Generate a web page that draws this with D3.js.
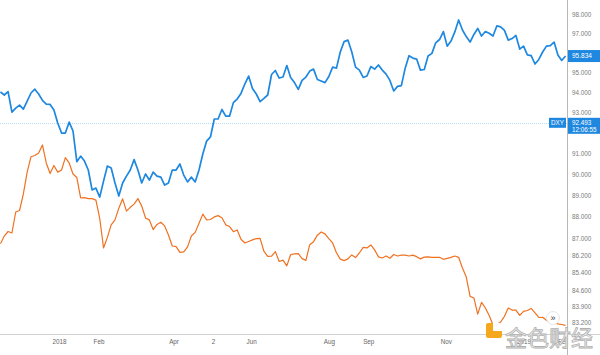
<!DOCTYPE html>
<html>
<head>
<meta charset="utf-8">
<script src="https://cdn.jsdelivr.net/npm/d3@7"></script>
<style>
  html, body { margin: 0; padding: 0; background: #fff; }
  svg { display: block; }
</style>
</head>
<body>
<svg id="chart" width="600" height="355"></svg>
<script>
// ---------------- DATA ----------------
const seriesStart = "2017-11-16";   // first sample date
const stepDays = 3;                  // sampling step (calendar days)

// DXY (blue)
const dxyValues = [
  94.02, 93.87, 94.04, 93.02, 93.22, 93.37, 93.17, 93.57, 93.97, 94.16,
  93.92, 93.60, 93.42, 93.40, 93.12, 92.48, 91.99, 91.99, 92.53, 92.09,
  90.60, 90.87, 90.63, 90.20, 89.25, 89.34, 88.91, 89.67, 90.39, 90.30,
  89.58, 88.96, 89.58, 89.91, 90.20, 90.70, 90.20, 89.58, 90.01, 89.72,
  90.10, 89.91, 89.86, 89.48, 89.58, 90.20, 90.20, 90.49, 89.96, 89.63,
  89.86, 89.63, 90.20, 90.97, 91.60, 91.80, 92.68, 92.68, 93.15, 92.82,
  92.82, 93.49, 93.67, 93.95, 94.42, 94.82, 94.20, 93.92, 93.54, 93.70,
  93.87, 94.90, 95.10, 94.72, 94.77, 95.35, 94.75, 94.49, 94.15, 94.60,
  94.77, 95.07, 95.17, 94.65, 94.57, 94.49, 94.80, 95.27, 95.22, 96.04,
  96.57, 96.65, 96.05, 95.27, 95.12, 94.75, 94.82, 95.30, 95.17, 95.38,
  95.12, 94.92, 94.60, 94.07, 94.30, 94.34, 95.22, 95.85, 95.73, 95.68,
  95.12, 95.15, 95.84, 95.97, 96.51, 96.68, 97.09, 96.34, 96.60, 97.07,
  97.69, 97.17, 96.83, 96.55, 96.94, 97.25, 96.86, 97.09, 97.00, 96.86,
  97.38, 97.33, 97.15, 96.65, 96.73, 96.89, 96.19, 96.34, 95.89, 95.86,
  95.43, 95.66, 96.04, 96.34, 96.37, 96.55, 95.89, 95.61, 95.834
];

// Compared symbol (orange)
const compareValues = [
  86.73, 87.09, 87.30, 87.23, 88.21, 88.28, 89.06, 90.10, 90.84, 90.90,
  91.02, 91.41, 90.54, 90.03, 90.42, 90.10, 90.20, 90.80, 90.54, 90.01,
  89.84, 88.87, 88.89, 88.84, 88.84, 88.77, 87.91, 86.54, 87.03, 87.61,
  87.84, 88.39, 88.83, 88.25, 88.43, 88.58, 88.84, 88.49, 87.93, 87.84,
  87.39, 87.63, 87.73, 87.56, 87.14, 86.63, 86.60, 86.34, 86.36, 86.59,
  87.09, 87.26, 87.68, 88.11, 87.84, 87.86, 87.98, 88.04, 87.94, 87.61,
  87.53, 87.29, 87.37, 86.94, 86.77, 86.84, 86.91, 86.97, 86.98, 86.39,
  86.15, 86.16, 86.37, 85.92, 85.98, 85.72, 86.24, 86.27, 86.28, 86.05,
  85.97, 86.69, 86.83, 87.13, 87.28, 87.19, 86.97, 86.77, 86.32, 86.03,
  85.96, 86.04, 86.22, 86.10, 86.31, 86.57, 86.54, 86.68, 86.45, 86.13,
  86.08, 86.17, 86.07, 86.24, 86.17, 86.21, 86.21, 86.17, 86.21, 86.14,
  86.04, 86.12, 86.13, 86.11, 86.11, 86.11, 86.02, 86.06, 86.11, 86.17,
  86.11, 85.62, 85.21, 84.34, 84.27, 83.55, 84.07, 83.82, 83.49, 83.07,
  83.09, 83.20, 83.45, 83.82, 83.73, 83.73, 83.49, 83.67, 83.71, 83.80,
  83.60, 83.40, 83.41, 83.28, 83.17, 83.16, 83.12, 83.09, 83.05
];

// Price axis tick labels
const priceTicks = [98, 97, 95, 94, 93, 91, 90, 89, 88, 87, 86.2, 85.4, 84.6, 83.9, 83.2];

// Time axis ticks
const timeTickDates  = ["2018-01-01","2018-02-01","2018-04-01","2018-05-02","2018-06-01",
                        "2018-08-01","2018-09-01","2018-11-01","2019-01-01","2019-02-01"];
const timeTickLabels = ["2018","Feb","Apr","2","Jun","Aug","Sep","Nov","2019","Feb"];

const lastPrice = 95.834;
const symbolName = "DXY";
const refPrice = 92.493;
const refTime = "12:06:55";

// ---------------- CHART ----------------
const W = 600, H = 355;
const paneRight = 567, paneBottom = 334;
const svg = d3.select("#chart");
const font = "'Liberation Sans', Arial, sans-serif";

const parse = d3.utcParse("%Y-%m-%d");
const start = parse(seriesStart);
const dates = dxyValues.map((_, i) => d3.utcDay.offset(start, i * stepDays));

const x = d3.scaleUtc()
  .domain([parse("2018-01-01"), parse("2019-02-01")])
  .range([59, 563]);
const y = d3.scaleLog()
  .domain([98, 83.2])
  .range([14, 322]);

svg.append("rect").attr("width", W).attr("height", H).attr("fill", "#fff");

const defs = svg.append("defs");
defs.append("clipPath").attr("id", "pane")
  .append("rect").attr("x", 0).attr("y", 0).attr("width", paneRight).attr("height", paneBottom);

const pane = svg.append("g").attr("clip-path", "url(#pane)");

// reference dotted line
pane.append("line")
  .attr("x1", 0).attr("x2", paneRight)
  .attr("y1", Math.round(y(refPrice)) + 0.5).attr("y2", Math.round(y(refPrice)) + 0.5)
  .attr("stroke", "#b9dcf7").attr("stroke-width", 1).attr("stroke-dasharray", "1,1");

const line = d3.line().x((d, i) => x(dates[i])).y(d => y(d));

pane.append("path").datum(compareValues)
  .attr("d", line).attr("fill", "none")
  .attr("stroke", "#f07120").attr("stroke-width", 1.2).attr("stroke-linejoin", "round");

pane.append("path").datum(dxyValues)
  .attr("d", line).attr("fill", "none")
  .attr("stroke", "#1e87e0").attr("stroke-width", 1.7).attr("stroke-linejoin", "round");

// axes lines
svg.append("line").attr("x1", paneRight + 0.5).attr("x2", paneRight + 0.5)
  .attr("y1", 0).attr("y2", H).attr("stroke", "#b8b8b8");
svg.append("line").attr("x1", 0).attr("x2", W)
  .attr("y1", paneBottom + 0.5).attr("y2", paneBottom + 0.5).attr("stroke", "#d0d0d0");

// price axis
const yAxis = d3.axisRight(y).tickValues(priceTicks).tickSize(0).tickPadding(0)
  .tickFormat(d3.format(".3f"));
const ya = svg.append("g").attr("transform", `translate(${paneRight + 5},0)`).call(yAxis);
ya.select(".domain").remove();
ya.selectAll("text").attr("font-family", font).attr("font-size", 6.3).attr("fill", "#7a7a7a");

// time axis
svg.append("defs").append("clipPath").attr("id", "timeclip")
  .append("rect").attr("x", 0).attr("y", paneBottom).attr("width", paneRight).attr("height", H - paneBottom);
const xAxis = d3.axisBottom(x).tickValues(timeTickDates.map(parse)).tickSize(0).tickPadding(0)
  .tickFormat((d, i) => timeTickLabels[i]);
const xa = svg.append("g").attr("clip-path", "url(#timeclip)")
  .append("g").attr("transform", `translate(0,${paneBottom + 6})`).call(xAxis);
xa.select(".domain").remove();
xa.selectAll("text").attr("font-family", font).attr("font-size", 6.3).attr("fill", "#666");

// last price label
const lpY = y(lastPrice);
svg.append("rect").attr("x", paneRight + 1).attr("y", lpY - 6).attr("width", W - paneRight - 1).attr("height", 12)
  .attr("fill", "#1e87e0");
svg.append("text").attr("x", paneRight + 5).attr("y", lpY).attr("dy", "0.35em")
  .attr("font-family", font).attr("font-size", 6.5).attr("fill", "#fff").text(lastPrice.toFixed(3));

// reference price label
const rY = y(refPrice);
svg.append("rect").attr("x", paneRight + 1).attr("y", rY - 5).attr("width", W - paneRight - 1).attr("height", 16)
  .attr("fill", "#1e87e0");
svg.append("text").attr("x", paneRight + 5).attr("y", rY).attr("dy", "0.35em")
  .attr("font-family", font).attr("font-size", 6.3).attr("fill", "#fff").text(refPrice.toFixed(3));
svg.append("text").attr("x", paneRight + 5).attr("y", rY + 6.5).attr("dy", "0.35em")
  .attr("font-family", font).attr("font-size", 6.3).attr("fill", "#fff").text(refTime);
svg.append("rect").attr("x", paneRight - 18).attr("y", rY - 5).attr("width", 17).attr("height", 10)
  .attr("fill", "#1e87e0");
svg.append("text").attr("x", paneRight - 9.5).attr("y", rY).attr("dy", "0.35em").attr("text-anchor", "middle")
  .attr("font-family", font).attr("font-size", 6.3).attr("fill", "#fff").text(symbolName);

// scroll-to-realtime button
svg.append("circle").attr("cx", 553).attr("cy", 318).attr("r", 6.5)
  .attr("fill", "#fff").attr("stroke", "#e6e6e6");
svg.append("text").attr("x", 553).attr("y", 318).attr("dy", "0.35em").attr("text-anchor", "middle")
  .attr("font-family", font).attr("font-size", 9).attr("fill", "#333").text("»");

// watermark
const wm = svg.append("g");
wm.append("rect").attr("x", 486).attr("y", 323).attr("width", 16).attr("height", 15).attr("rx", 2)
  .attr("fill", "#f5a81c");
wm.append("rect").attr("x", 493).attr("y", 323).attr("width", 9).attr("height", 8)
  .attr("fill", "#fff");
wm.append("text").attr("x", 505).attr("y", 346)
  .attr("font-family", "'Noto Sans CJK SC', sans-serif").attr("font-size", 22)
  .attr("fill", "#f2f2f2").attr("stroke", "#b0b0b0").attr("stroke-width", 0.8)
  .text("金色财经");
</script>
</body>
</html>
